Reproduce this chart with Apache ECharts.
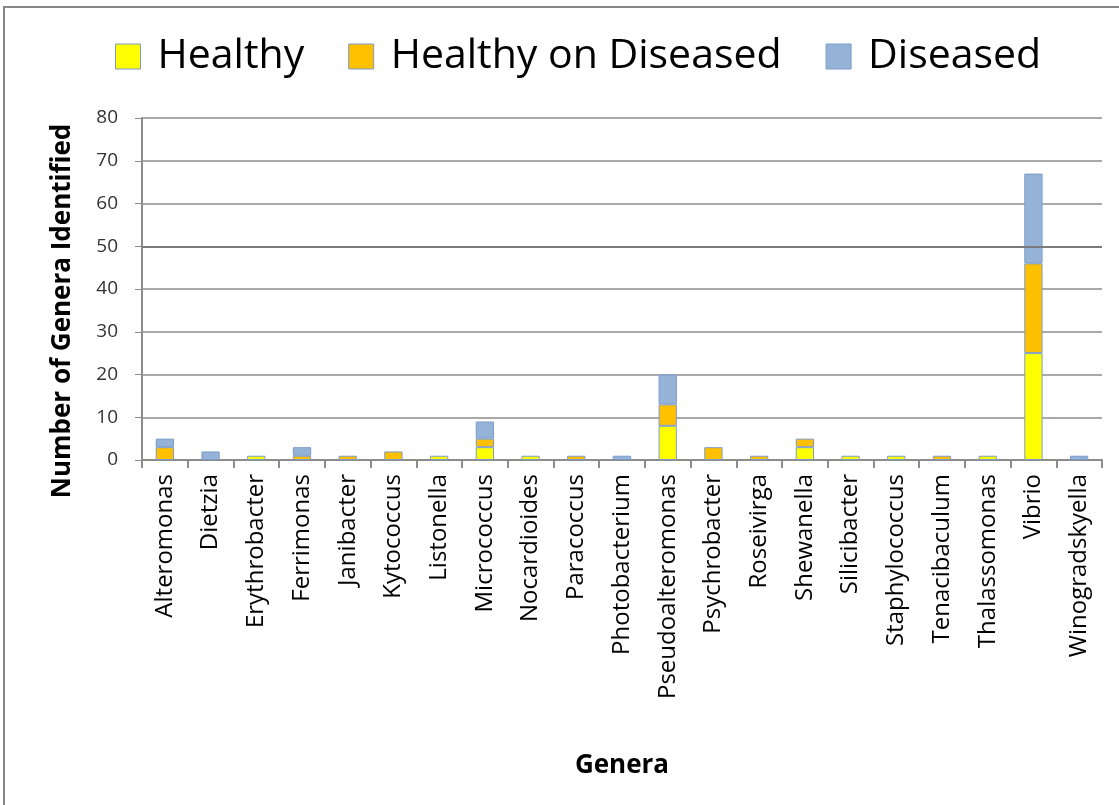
<!DOCTYPE html>
<html>
<head>
<meta charset="utf-8">
<script src="https://cdn.jsdelivr.net/npm/echarts@6/dist/echarts.min.js"></script>
<style>
  html, body { margin: 0; padding: 0; background: #fff; }
  #frame { position: absolute; left: 3px; top: 6px; width: 1116px; height: 799px;
           border-left: 2px solid #868686; border-top: 2px solid #868686; box-sizing: border-box; }
  #chart { position: absolute; left: 0; top: 0; width: 1119px; height: 805px; }
</style>
</head>
<body>
<div id="frame"></div>
<div id="chart"></div>
<script>
// Genera identified per sample type
const genera = ['Alteromonas', 'Dietzia', 'Erythrobacter', 'Ferrimonas', 'Janibacter', 'Kytococcus',
  'Listonella', 'Micrococcus', 'Nocardioides', 'Paracoccus', 'Photobacterium', 'Pseudoalteromonas',
  'Psychrobacter', 'Roseivirga', 'Shewanella', 'Silicibacter', 'Staphylococcus', 'Tenacibaculum',
  'Thalassomonas', 'Vibrio', 'Winogradskyella'];

const healthy           = [0, 0, 1, 0, 0, 0, 1, 3, 1, 0, 0, 8, 0, 0, 3, 1, 1, 0, 1, 25, 0];
const healthyOnDiseased = [3, 0, 0, 1, 1, 2, 0, 2, 0, 1, 0, 5, 3, 1, 2, 0, 0, 1, 0, 21, 0];
const diseased          = [2, 2, 0, 2, 0, 0, 0, 4, 0, 0, 1, 7, 0, 0, 0, 0, 0, 0, 0, 21, 1];

const seriesNames = ['Healthy', 'Healthy on Diseased', 'Diseased'];
const yTicks = [0, 10, 20, 30, 40, 50, 60, 70, 80];

const FONT = '"Open Sans", "DejaVu Sans", sans-serif';
const chart = echarts.init(document.getElementById('chart'), null, { renderer: 'canvas' });

function stackSeries(name, values, color) {
  return {
    name: name,
    type: 'bar',
    stack: 'genera',
    barWidth: '40%',
    data: values.map(v => (v === 0 ? null : v)),
    itemStyle: { color: color, borderColor: '#7b9ccb', borderWidth: 1 }
  };
}

const series = [
  stackSeries(seriesNames[0], healthy, '#ffff00'),
  stackSeries(seriesNames[1], healthyOnDiseased, '#ffc000'),
  stackSeries(seriesNames[2], diseased, '#95b3d7')
];
// the 50 gridline is drawn heavier
series[0].markLine = {
  silent: true, symbol: 'none', label: { show: false },
  lineStyle: { color: '#7a7a7a', width: 2, type: 'solid' },
  data: [{ yAxis: 50 }]
};

chart.setOption({
  animation: false,
  backgroundColor: 'transparent',
  legend: {
    data: seriesNames,
    left: 110, top: 31,
    itemWidth: 25, itemHeight: 25, itemGap: 44,
    icon: 'rect',
    itemStyle: { borderColor: '#7b9ccb', borderWidth: 1 },
    textStyle: { fontFamily: FONT, fontSize: 41, color: '#000', padding: [0, 0, 0, 12] }
  },
  grid: { left: 142, right: 17, top: 118, bottom: 345 },
  xAxis: {
    type: 'category',
    data: genera,
    name: 'Genera',
    nameLocation: 'middle',
    nameGap: 293,
    nameTextStyle: { fontFamily: FONT, fontSize: 26, fontWeight: 'bold', color: '#000' },
    axisLine: { lineStyle: { color: '#8c8c8c', width: 2 } },
    axisTick: { show: true, interval: 0, length: 8, lineStyle: { color: '#8c8c8c', width: 2 } },
    axisLabel: { interval: 0, rotate: 90, margin: 14, fontFamily: FONT, fontSize: 24, color: '#000' },
    splitLine: { show: false }
  },
  yAxis: {
    type: 'value',
    min: yTicks[0], max: yTicks[yTicks.length - 1], interval: 10,
    name: 'Number of Genera Identified',
    nameLocation: 'middle',
    nameGap: 66,
    nameTextStyle: { fontFamily: FONT, fontSize: 26, fontWeight: 'bold', color: '#000', padding: [0, 44, 0, 0] },
    axisLine: { show: true, lineStyle: { color: '#8c8c8c', width: 2 } },
    axisTick: { show: true, length: 7, lineStyle: { color: '#8c8c8c', width: 1 } },
    axisLabel: { margin: 24, fontFamily: FONT, fontSize: 19, color: '#333' },
    splitLine: { show: true, lineStyle: { color: '#a9a9a9', width: 2 } }
  },
  series: series
});
</script>
</body>
</html>
